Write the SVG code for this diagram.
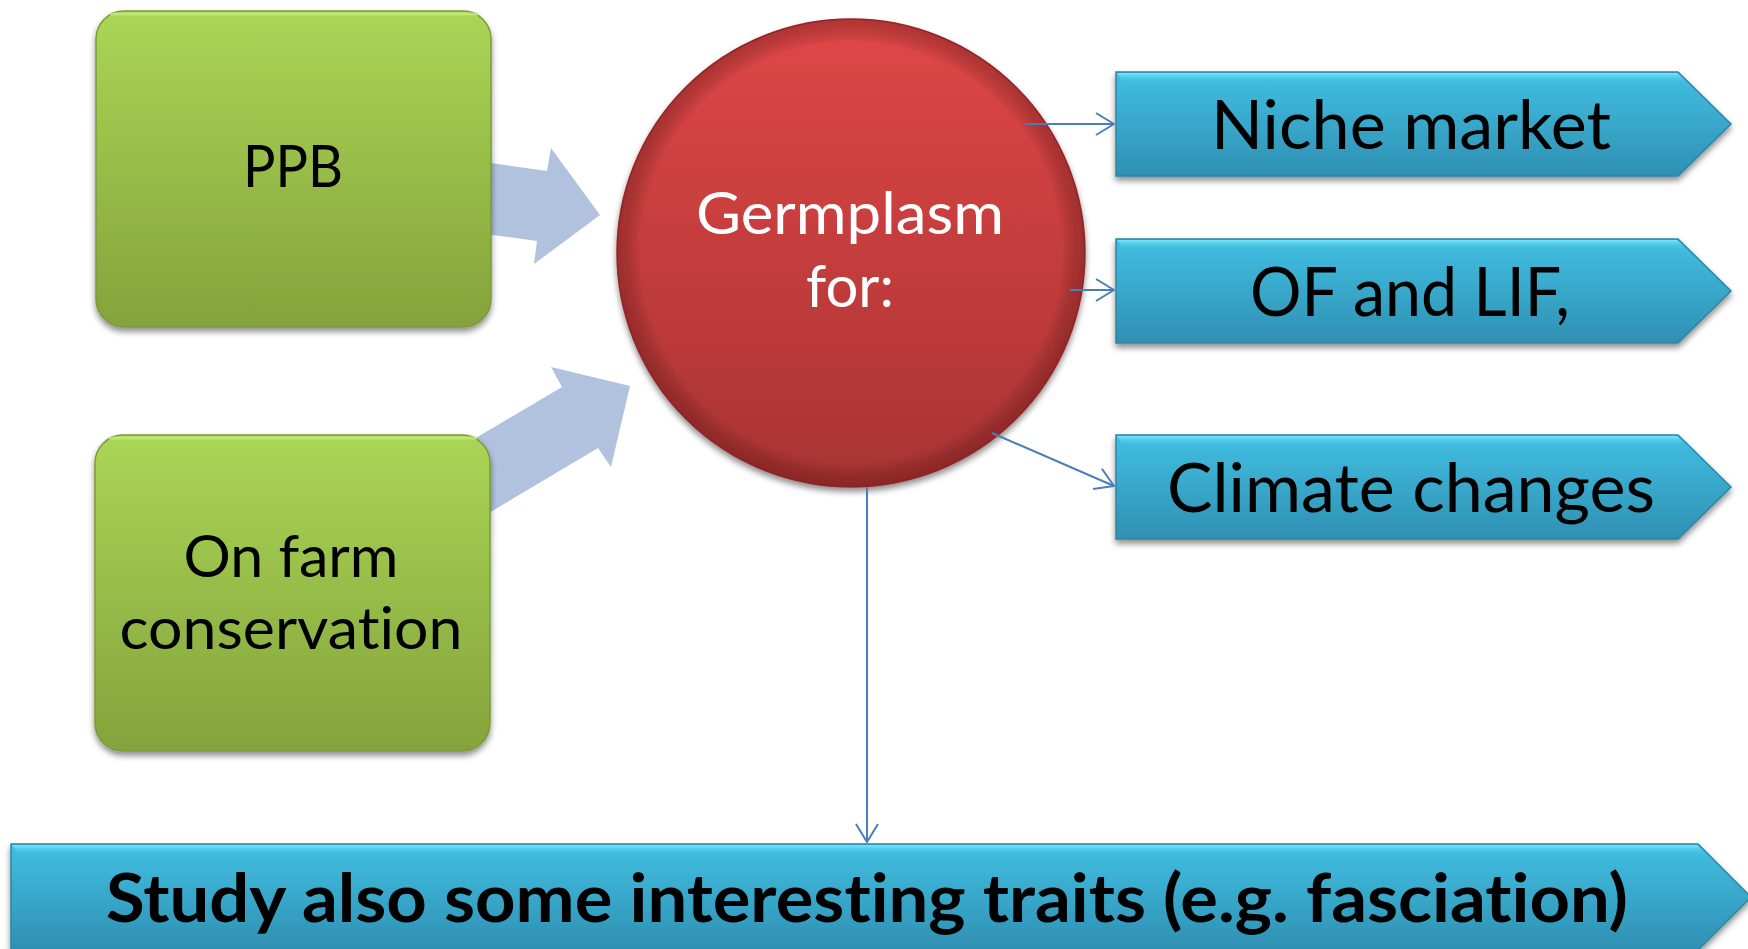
<svg xmlns="http://www.w3.org/2000/svg" width="1748" height="949" viewBox="0 0 1748 949">
<defs>
<linearGradient id="gGreen" x1="0" y1="0" x2="0" y2="1">
<stop offset="0" stop-color="#aad655"/>
<stop offset="1" stop-color="#84a33c"/>
</linearGradient>
<linearGradient id="gRed" x1="0" y1="0" x2="0" y2="1">
<stop offset="0" stop-color="#e04746"/>
<stop offset="1" stop-color="#a83333"/>
</linearGradient>
<radialGradient id="gRedEdge" cx="0.5" cy="0.5" r="0.5">
<stop offset="0.9" stop-color="#000" stop-opacity="0"/>
<stop offset="1" stop-color="#5a1010" stop-opacity="0.35"/>
</radialGradient>
<linearGradient id="gBlue" x1="0" y1="0" x2="0" y2="1">
<stop offset="0" stop-color="#41bfe2"/>
<stop offset="1" stop-color="#2f90b2"/>
</linearGradient>
<linearGradient id="gBlueTop" x1="0" y1="0" x2="0" y2="1">
<stop offset="0" stop-color="#7ae6fa"/>
<stop offset="1" stop-color="#41bfe2" stop-opacity="0"/>
</linearGradient>
<filter id="shadow" x="-10%" y="-10%" width="120%" height="130%">
<feGaussianBlur in="SourceAlpha" stdDeviation="3"/>
<feOffset dx="0" dy="4" result="b"/>
<feComponentTransfer><feFuncA type="linear" slope="0.45"/></feComponentTransfer>
<feMerge><feMergeNode/><feMergeNode in="SourceGraphic"/></feMerge>
</filter>
<marker id="open" viewBox="0 0 20 24" refX="19" refY="12" markerWidth="20" markerHeight="24" markerUnits="userSpaceOnUse" orient="auto">
<path d="M1,1 L19,12 L1,23" fill="none" stroke="#4a7ebb" stroke-width="2"/>
</marker>
</defs>
<style>
.fat{fill:#b0c2dd;}
.green{fill:url(#gGreen);stroke:#7c9b37;stroke-width:1.5;}
.chev{fill:url(#gBlue);stroke:#2b86a6;stroke-width:1.5;}
.conn{stroke:#4a7ebb;stroke-width:2;fill:none;}
.t{font-family:Lato,"Liberation Sans",sans-serif;text-anchor:middle;font-variant-ligatures:none;font-feature-settings:"liga" 0,"clig" 0;}
.dark{fill:#000;}
.light{fill:#fff;}
</style>
<rect width="1748" height="949" fill="#ffffff"/>

<g id="flow-arrows">
<polygon class="fat" points="470,160 547,171 551,148 600,215 534,264 537,241 470,232"/>
<polygon class="fat" points="452,452 562,387 551,367 630,386 611,467 598,448 467,526"/>
</g>

<g id="ppb" filter="url(#shadow)">
<rect class="green" x="96" y="11" width="395" height="316" rx="28"/>
<path d="M110,14 H478" stroke="#c6ea7a" stroke-width="3" fill="none" opacity="0.8"/>
<text class="t dark" x="293" y="187" font-size="58" textLength="100" lengthAdjust="spacingAndGlyphs">PPB</text>
</g>

<g id="on-farm" filter="url(#shadow)">
<rect class="green" x="95" y="435" width="395" height="316" rx="28"/>
<path d="M109,438 H477" stroke="#c6ea7a" stroke-width="3" fill="none" opacity="0.8"/>
<text class="t dark" x="291" y="577" font-size="58" textLength="215" lengthAdjust="spacingAndGlyphs">On farm</text>
<text class="t dark" x="291" y="649" font-size="58" textLength="343" lengthAdjust="spacingAndGlyphs">conservation</text>
</g>

<g id="germplasm" filter="url(#shadow)">
<circle cx="851" cy="253" r="234" fill="url(#gRed)" stroke="#9b2d2d" stroke-width="1.5"/>
<circle cx="851" cy="253" r="234" fill="url(#gRedEdge)"/>
<text class="t light" x="850" y="234" font-size="58" textLength="308" lengthAdjust="spacingAndGlyphs">Germplasm</text>
<text class="t light" x="850" y="307" font-size="58">for:</text>
</g>

<g id="niche" filter="url(#shadow)">
<path class="chev" d="M1116,72 L1678,72 L1731,124 L1678,176 L1116,176 Z"/>
<path d="M1117,73 L1677,73 L1687,83 L1124,83 Z" fill="url(#gBlueTop)"/>
<text class="t dark" x="1411" y="149" font-size="67" textLength="400" lengthAdjust="spacingAndGlyphs">Niche market</text>
</g>

<g id="of-lif" filter="url(#shadow)">
<path class="chev" d="M1116,239 L1678,239 L1731,291 L1678,343 L1116,343 Z"/>
<path d="M1117,240 L1677,240 L1687,250 L1124,250 Z" fill="url(#gBlueTop)"/>
<text class="t dark" x="1410" y="316" font-size="67" textLength="320" lengthAdjust="spacingAndGlyphs">OF and LIF,</text>
</g>

<g id="climate" filter="url(#shadow)">
<path class="chev" d="M1116,435 L1678,435 L1731,487 L1678,539 L1116,539 Z"/>
<path d="M1117,436 L1677,436 L1687,446 L1124,446 Z" fill="url(#gBlueTop)"/>
<text class="t dark" x="1411" y="512" font-size="67" textLength="488" lengthAdjust="spacingAndGlyphs">Climate changes</text>
</g>

<g id="study" filter="url(#shadow)">
<path class="chev" d="M11,844 L1698,844 L1751,897 L1698,950 L11,950 Z"/>
<path d="M12,845 L1697,845 L1707,855 L19,855 Z" fill="url(#gBlueTop)"/>
<text class="t dark" x="867" y="922" font-size="66" font-weight="bold" textLength="1522" lengthAdjust="spacingAndGlyphs">Study also some interesting traits (e.g. fasciation)</text>
</g>

<g id="connectors">
<line class="conn" x1="1025" y1="124" x2="1114" y2="124" marker-end="url(#open)"/>
<line class="conn" x1="1070" y1="290" x2="1114" y2="290" marker-end="url(#open)"/>
<line class="conn" x1="992" y1="433" x2="1114" y2="486" marker-end="url(#open)"/>
<line class="conn" x1="867" y1="487" x2="867" y2="842" marker-end="url(#open)"/>
</g>
</svg>
